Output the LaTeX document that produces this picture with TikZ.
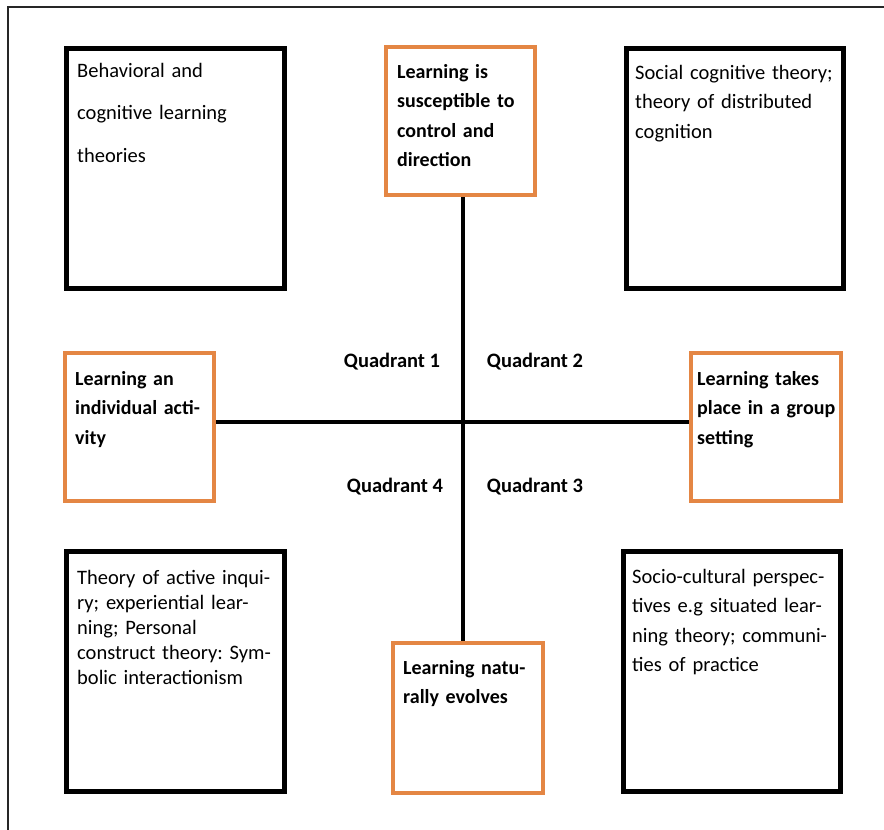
\documentclass[tikz,border=0pt]{standalone}
\usepackage{fontspec}
\setmainfont{Carlito}
\frenchspacing
\definecolor{boxorange}{RGB}{228,134,68}
\tikzset{
  blackbox/.style={draw=black, line width=5pt, rectangle, inner sep=0pt},
  orangebox/.style={draw=boxorange, line width=4.5pt, rectangle, inner sep=0pt},
  boxtext/.style={anchor=base west, inner sep=0pt, text width=230pt, align=left,
    font=\fontsize{20.5}{29.5}\selectfont\frenchspacing},
  boldtext/.style={boxtext, font=\fontsize{20}{29.5}\selectfont\bfseries\frenchspacing},
  quadlabel/.style={inner sep=0pt, font=\fontsize{20.5}{24}\selectfont\bfseries},
  axis/.style={draw=black, line width=3.2pt},
  frame/.style={draw=black!85, line width=1.5pt}
}
\begin{document}
\begin{tikzpicture}[x=1pt, y=-1pt]
\useasboundingbox (0,0) rectangle (884,830);
% outer frame (top and left edges visible)
\coordinate (fa) at (8,830);
\coordinate (fb) at (8,7);
\coordinate (fc) at (884,7);
\draw[frame] (fa) -- (fb) -- (fc);

% boxes
\node[blackbox, minimum width=218pt, minimum height=240pt] (tl) at (175,168) {};
\node[orangebox, minimum width=149pt, minimum height=148pt] (tc) at (460.5,121) {};
\node[blackbox, minimum width=217pt, minimum height=240pt] (tr) at (734.5,168) {};
\node[orangebox, minimum width=149pt, minimum height=148pt] (lf) at (139.5,427) {};
\node[orangebox, minimum width=150pt, minimum height=148pt] (rt) at (766,427) {};
\node[blackbox, minimum width=218pt, minimum height=240pt] (bl) at (175,671) {};
\node[orangebox, minimum width=150pt, minimum height=150pt] (bc) at (468,718) {};
\node[blackbox, minimum width=217pt, minimum height=240pt] (br) at (731.5,671) {};

% axes
\path[axis] (tc.south -| 463,0) -- (bc.north -| 463,0);
\coordinate (hy) at (0,422);
\path[axis] (lf.east |- hy) -- (rt.west |- hy);

% texts
\node[boxtext, font=\fontsize{20.5}{42.5}\selectfont\frenchspacing] (tlt) at (77,77)
  {Behavioral and\\cognitive learning\\theories};
\node[boldtext] (tct) at (397,78)
  {Learning is\\susceptible to\\control and\\direction};
\node[boxtext] (trt) at (635,79)
  {Social cognitive theory;\\theory of distributed\\cognition};
\node[boldtext] (lft) at (75,385)
  {Learning an\\individual acti-\\vity};
\node[boldtext] (rtt) at (697,385)
  {Learning takes\\place in a group\\setting};
\node[boxtext, font=\fontsize{20.5}{25}\selectfont\frenchspacing] (blt) at (77,584)
  {Theory of active inqui-\\ry; experiential lear-\\ning; Personal\\construct theory: Sym-\\bolic interactionism};
\node[boldtext] (bct) at (403,674)
  {Learning natu-\\rally evolves};
\node[boxtext] (brt) at (632,583)
  {Socio-cultural perspec-\\tives e.g situated lear-\\ning theory; communi-\\ties of practice};

% quadrant labels
\node[quadlabel] (q1) at (392,362) {Quadrant 1};
\node[quadlabel] (q2) at (535,362) {Quadrant 2};
\node[quadlabel] (q4) at (395,487) {Quadrant 4};
\node[quadlabel] (q3) at (535,487) {Quadrant 3};
\end{tikzpicture}
\end{document}
